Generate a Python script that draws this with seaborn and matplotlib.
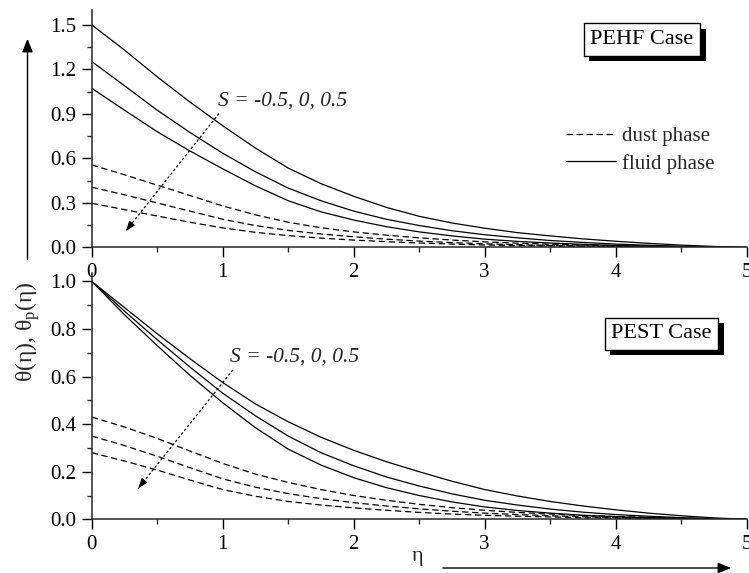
import matplotlib
matplotlib.use("Agg")
import matplotlib.pyplot as plt
import matplotlib.patheffects as pe
from matplotlib.lines import Line2D
from matplotlib.patches import FancyArrowPatch
from matplotlib.ticker import MultipleLocator
import seaborn as sns
import pandas as pd

# ---------------- data ----------------
eta = [0, 0.25, 0.5, 0.75, 1, 1.25, 1.5, 1.75, 2, 2.25, 2.5,
       2.75, 3, 3.25, 3.5, 3.75, 4, 4.25, 4.5, 4.75, 5]
S_values = ["-0.5", "0", "0.5"]

# PEHF case (top panel)
pehf_fluid_m05 = [1.50, 1.33, 1.15, 0.98, 0.82, 0.67, 0.535, 0.43, 0.345, 0.27, 0.21,
                  0.165, 0.13, 0.10, 0.078, 0.058, 0.042, 0.028, 0.016, 0.007, 0.0]
pehf_fluid_0 = [1.253, 1.09, 0.925, 0.775, 0.635, 0.51, 0.40, 0.315, 0.245, 0.19, 0.148,
                0.113, 0.086, 0.065, 0.047, 0.034, 0.023, 0.015, 0.008, 0.003, 0.0]
pehf_fluid_05 = [1.073, 0.925, 0.78, 0.65, 0.53, 0.415, 0.315, 0.24, 0.185, 0.14, 0.105,
                 0.078, 0.056, 0.041, 0.030, 0.021, 0.014, 0.009, 0.005, 0.002, 0.0]
pehf_dust_m05 = [0.556, 0.49, 0.42, 0.35, 0.28, 0.22, 0.17, 0.133, 0.105, 0.083, 0.065,
                 0.050, 0.038, 0.029, 0.022, 0.016, 0.012, 0.008, 0.005, 0.002, 0.0]
pehf_dust_0 = [0.406, 0.355, 0.30, 0.245, 0.19, 0.148, 0.115, 0.091, 0.072, 0.056, 0.043,
               0.033, 0.025, 0.019, 0.014, 0.010, 0.007, 0.005, 0.003, 0.001, 0.0]
pehf_dust_05 = [0.298, 0.255, 0.212, 0.17, 0.132, 0.102, 0.080, 0.063, 0.050, 0.039, 0.030,
                0.023, 0.017, 0.013, 0.010, 0.007, 0.005, 0.003, 0.002, 0.001, 0.0]

# PEST case (bottom panel)
pest_fluid_m05 = [1.0, 0.89, 0.78, 0.675, 0.575, 0.485, 0.41, 0.345, 0.29, 0.242, 0.20,
                  0.16, 0.125, 0.098, 0.075, 0.056, 0.040, 0.026, 0.015, 0.006, 0.0]
pest_fluid_0 = [1.0, 0.875, 0.755, 0.64, 0.53, 0.435, 0.35, 0.28, 0.225, 0.178, 0.14,
                0.107, 0.080, 0.060, 0.043, 0.030, 0.020, 0.013, 0.007, 0.003, 0.0]
pest_fluid_05 = [1.0, 0.86, 0.73, 0.605, 0.49, 0.385, 0.295, 0.228, 0.175, 0.133, 0.10,
                 0.073, 0.052, 0.037, 0.026, 0.017, 0.011, 0.007, 0.004, 0.002, 0.0]
pest_dust_m05 = [0.43, 0.388, 0.34, 0.287, 0.235, 0.19, 0.155, 0.125, 0.10, 0.08, 0.063,
                 0.049, 0.038, 0.029, 0.022, 0.016, 0.012, 0.008, 0.005, 0.002, 0.0]
pest_dust_0 = [0.35, 0.31, 0.265, 0.217, 0.17, 0.135, 0.108, 0.087, 0.070, 0.056, 0.044,
               0.034, 0.026, 0.020, 0.015, 0.011, 0.008, 0.005, 0.003, 0.001, 0.0]
pest_dust_05 = [0.28, 0.245, 0.207, 0.165, 0.125, 0.097, 0.075, 0.060, 0.048, 0.038, 0.029,
                0.022, 0.017, 0.013, 0.010, 0.007, 0.005, 0.003, 0.002, 0.001, 0.0]

phase_labels = ["dust phase", "fluid phase"]
case_labels = ["PEHF Case", "PEST Case"]
s_label = "S = -0.5, 0, 0.5"
top_yticks = [0.0, 0.3, 0.6, 0.9, 1.2, 1.5]
bot_yticks = [0.0, 0.2, 0.4, 0.6, 0.8, 1.0]
xticks = [0, 1, 2, 3, 4, 5]


def long_df(fluid, dust):
    rows = []
    for s, f, d in zip(S_values, fluid, dust):
        for x, yf, yd in zip(eta, f, d):
            rows.append({"eta": x, "theta": yf, "S": s, "phase": "fluid phase"})
            rows.append({"eta": x, "theta": yd, "S": s, "phase": "dust phase"})
    return pd.DataFrame(rows)


df_top = long_df([pehf_fluid_m05, pehf_fluid_0, pehf_fluid_05],
                 [pehf_dust_m05, pehf_dust_0, pehf_dust_05])
df_bot = long_df([pest_fluid_m05, pest_fluid_0, pest_fluid_05],
                 [pest_dust_m05, pest_dust_0, pest_dust_05])

# ---------------- style ----------------
sns.set_theme(style="ticks")
plt.rcParams["font.family"] = ["Liberation Serif", "DejaVu Serif"]
plt.rcParams["mathtext.fontset"] = "custom"
plt.rcParams["mathtext.rm"] = "Liberation Serif"
plt.rcParams["mathtext.it"] = "Liberation Serif:italic"
plt.rcParams["lines.scale_dashes"] = False

DASH = (4.6, 2.6)
LW = 0.9
FS = 15

fig = plt.figure(figsize=(7.49, 5.73), dpi=100)
ax_top = fig.add_axes([0.1224, 0.5681, 0.8745, 0.4145])
ax_bot = fig.add_axes([0.1224, 0.0937, 0.8745, 0.4298])
ax_bot.patch.set_visible(False)


def draw(ax, df):
    for (s, ph), g in df.groupby(["S", "phase"], sort=False):
        sns.lineplot(data=g, x="eta", y="theta", ax=ax, color="black",
                     lw=LW, legend=False, estimator=None, sort=False)
        ln = ax.get_lines()[-1]
        if ph == "dust phase":
            ln.set_dashes(DASH)
    ax.set_xlim(0, 5)
    ax.set_xlabel("")
    ax.set_ylabel("")
    for side in ["top", "right"]:
        ax.spines[side].set_visible(False)
    for side in ["left", "bottom"]:
        ax.spines[side].set_linewidth(1.1)
    ax.set_xticks(xticks)
    ax.set_xticklabels([str(v) for v in xticks])
    ax.xaxis.set_minor_locator(MultipleLocator(0.5))
    ax.tick_params(which="major", direction="out", length=7, width=1.0,
                   labelsize=FS, pad=4, colors="black")
    ax.tick_params(which="minor", direction="out", length=3.8, width=1.0)
    ax.tick_params(axis="x", which="major", pad=4.5)


draw(ax_top, df_top)
draw(ax_bot, df_bot)

ax_top.set_ylim(0, 1.60)
ax_top.set_yticks(top_yticks)
ax_top.set_yticklabels([f"{v:.1f}" for v in top_yticks])
ax_top.yaxis.set_minor_locator(MultipleLocator(0.15))

ax_bot.set_ylim(0, 1.035)
ax_bot.set_yticks(bot_yticks)
ax_bot.set_yticklabels([f"{v:.1f}" for v in bot_yticks])
ax_bot.yaxis.set_minor_locator(MultipleLocator(0.1))


# case boxes with drop shadow
def case_box(ax, x, y, text):
    t = ax.text(x, y, text, fontsize=16, ha="center", va="center", color="black",
                bbox=dict(boxstyle="square,pad=0.3", fc="white", ec="black", lw=1), zorder=5)
    t.get_bbox_patch().set_path_effects([
        pe.SimplePatchShadow(offset=(4, -4), shadow_rgbFace="black", alpha=1.0),
        pe.Normal()])


case_box(ax_top, 4.20, 1.40, case_labels[0])
case_box(ax_bot, 4.35, 0.78, case_labels[1])


# S annotations with dotted arrows
def s_arrow(ax, start, end, text_pos):
    ax.annotate("", xy=end, xytext=start,
                arrowprops=dict(arrowstyle="-", lw=0.9, ls=(0, (1.2, 2.2)), color="black",
                                shrinkA=0, shrinkB=0))
    dx = (end[0] - start[0]) * 0.06
    dy = (end[1] - start[1]) * 0.06
    ax.annotate("", xy=end, xytext=(end[0] - dx, end[1] - dy),
                arrowprops=dict(arrowstyle="-|>,head_length=0.5,head_width=0.18",
                                lw=0.8, color="black", shrinkA=0, shrinkB=0))
    ax.text(text_pos[0], text_pos[1], s_label, fontsize=15.5, style="italic",
            ha="left", va="center")


s_arrow(ax_top, (0.97, 0.90), (0.26, 0.11), (0.965, 0.985))
s_arrow(ax_bot, (1.077, 0.627), (0.355, 0.13), (1.055, 0.682))

# legend
handles = [Line2D([], [], color="black", lw=LW, dashes=DASH),
           Line2D([], [], color="black", lw=LW)]
ax_top.legend(handles, phase_labels, loc="upper left", bbox_to_anchor=(0.724, 0.51),
              frameon=False, fontsize=15, handlelength=2.4, handletextpad=0.3,
              borderpad=0, borderaxespad=0, labelspacing=0.38)

# axis labels with arrows (figure coords)
fig.text(28 / 749, 1 - 332 / 573, r"θ(η), θ$_\mathregular{p}$(η)", rotation=90,
         fontsize=17, ha="center", va="center")
fig.add_artist(FancyArrowPatch(
    (27.5 / 749, 1 - 262 / 573), (27.5 / 749, 1 - 36 / 573), transform=fig.transFigure,
    arrowstyle="-|>,head_length=4,head_width=1.6", lw=1.0, color="black", mutation_scale=2))

fig.text(418 / 749, 1 - 557 / 573, "η", fontsize=16, ha="center", va="center")
fig.add_artist(FancyArrowPatch(
    (440 / 749, 1 - 568 / 573), (734 / 749, 1 - 568 / 573), transform=fig.transFigure,
    arrowstyle="-|>,head_length=4,head_width=1.6", lw=1.0, color="black", mutation_scale=2))

fig.savefig("out.png", dpi=100, facecolor="white")
